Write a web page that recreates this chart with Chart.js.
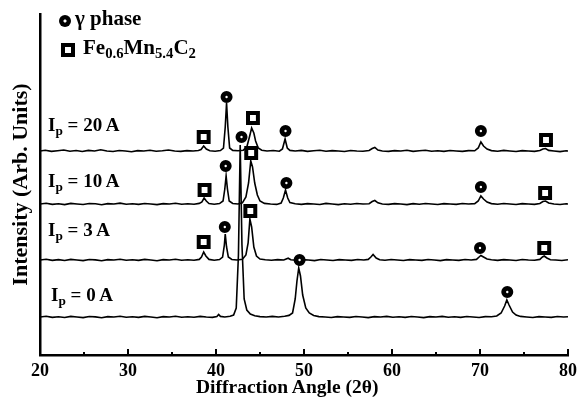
<!DOCTYPE html>
<html>
<head>
<meta charset="utf-8">
<script src="https://cdn.jsdelivr.net/npm/chart.js@4"></script>
<style>
  body { margin: 0; background: #fff; }
  #wrap { position: relative; width: 579px; height: 399px; }
  .lbl { position: absolute; font-family: 'Liberation Serif', serif; font-weight: bold; color: #000; white-space: nowrap; line-height: 1; }
  .lbl sub { font-size: 70%; vertical-align: -0.3em; line-height: 0; }
  .circ { position: absolute; width: 12px; height: 12px; border-radius: 50%; background: radial-gradient(circle, #fff 0 1.3px, #000 1.8px); }
  .sq { position: absolute; width: 6px; height: 6px; border: 4px solid #000; background: #fff; }
</style>
</head>
<body>
<div id="wrap">
  <canvas id="xrdChart" width="579" height="399"></canvas>
  <div class="circ" style="left:59px; top:15px;"></div>
  <div class="lbl" style="left:75px; top:8px; font-size:21px;">γ phase</div>
  <div class="sq" style="left:61px; top:43px;"></div>
  <div class="lbl" style="left:83px; top:37px; font-size:21px;">Fe<sub>0.6</sub>Mn<sub>5.4</sub>C<sub>2</sub></div>
  <div class="lbl" style="left:48px; top:115px; font-size:19px;">I<sub>p</sub> = 20 A</div>
  <div class="lbl" style="left:48px; top:171px; font-size:19px;">I<sub>p</sub> = 10 A</div>
  <div class="lbl" style="left:48px; top:220px; font-size:19px;">I<sub>p</sub> = 3 A</div>
  <div class="lbl" style="left:51px; top:285px; font-size:19px;">I<sub>p</sub> = 0 A</div>
  <div class="lbl" style="left:196px; top:377px; font-size:19.5px;">Diffraction Angle (2θ)</div>
</div>
<script>
// XRD patterns, [2theta, intensity] as shown (stacked)
const trace20 = [[20,204],[20.6,204.8],[21.3,203.6],[22,204.3],[22.7,205],[23.4,203.8],[24.1,204.5],[24.8,203.5],[25.5,204.6],[26.2,204],[26.9,205.2],[27.6,204],[28.3,203.5],[29,204.5],[29.7,204],[30.4,203.3],[31.1,204.4],[31.8,204],[32.5,204.8],[33.2,203.7],[33.9,204.2],[34.6,205],[35.3,204],[36,203.6],[36.7,204.4],[37.4,204],[38,204.5],[38.3,205.5],[38.6,209],[38.9,206],[39.3,204.3],[39.9,203.8],[40.5,204.5],[40.85,207],[41.05,228],[41.2,252],[41.35,228],[41.55,207],[41.9,204.6],[42.5,204.2],[43.1,204.8],[43.5,208],[43.8,218],[44.05,227],[44.3,222],[44.5,214],[44.8,207],[45.2,204.8],[45.8,204],[46.5,204.5],[47.2,203.8],[47.55,206],[47.85,216],[48.1,207],[48.4,204.6],[49,204],[49.7,204.6],[50.4,203.6],[51.1,204.3],[51.8,204.8],[52.5,203.8],[53.2,204.4],[53.9,204],[54.6,203.5],[55.3,204.5],[56,204],[56.7,203.8],[57.4,204.5],[57.75,206.5],[58.05,207.5],[58.4,205],[58.9,204],[59.6,203.6],[60.3,204.4],[61,204],[61.7,204.7],[62.4,203.6],[63.1,204.2],[63.8,204.8],[64.5,203.8],[65.2,204.3],[65.9,203.6],[66.6,204.5],[67.3,204],[68,203.6],[68.7,204.4],[69.4,204.2],[69.8,207],[70.1,213],[70.4,209],[70.8,206],[71.3,204.4],[72,203.8],[72.7,204.6],[73.4,204],[74.1,203.5],[74.8,204.4],[75.5,204],[76.2,203.6],[76.8,204.5],[77.15,206],[77.45,206.5],[77.8,204.6],[78.4,204],[79.1,203.4],[79.8,204.2],[80,204]];
const trace10 = [[20,151],[20.7,151.8],[21.4,150.6],[22.1,151.2],[22.8,150.4],[23.5,151.6],[24.2,151],[24.9,150.5],[25.6,151.5],[26.3,151.2],[27,150.3],[27.7,151.4],[28.4,151],[29.1,151.9],[29.8,150.8],[30.5,151.3],[31.2,150.6],[31.9,151.5],[32.6,151],[33.3,150.4],[34,151.4],[34.7,151],[35.4,151.7],[36.1,150.7],[36.8,151.2],[37.5,150.8],[38.1,151.6],[38.4,153],[38.65,157],[38.9,154],[39.2,151.5],[39.8,150.8],[40.4,151.4],[40.8,154],[41.0,166],[41.15,179],[41.3,166],[41.5,154],[41.9,151.5],[42.5,151],[43.0,152.2],[43.4,158],[43.7,172],[43.95,194],[44.15,188],[44.4,172],[44.7,160],[45.0,154],[45.5,151.6],[46.2,151],[46.9,150.6],[47.4,152],[47.65,157],[47.9,165],[48.15,157],[48.4,152.5],[49,151.2],[49.7,150.6],[50.4,151.4],[51.1,151],[51.8,150.5],[52.5,151.6],[53.2,151],[53.9,150.4],[54.6,151.3],[55.3,150.8],[56,151.5],[56.7,151],[57.4,151.3],[57.75,153.5],[58.05,154.5],[58.4,152.2],[58.9,151],[59.6,150.6],[60.3,151.4],[61,151],[61.7,150.4],[62.4,151.4],[63.1,150.8],[63.8,151.5],[64.5,151],[65.2,150.5],[65.9,151.4],[66.6,151],[67.3,150.6],[68,151.5],[68.7,151],[69.4,151.4],[69.8,154],[70.1,159],[70.4,156],[70.8,153],[71.3,151.4],[72,150.8],[72.7,151.5],[73.4,151],[74.1,150.5],[74.8,151.4],[75.5,151],[76.2,150.6],[76.8,151.5],[77.15,153.5],[77.45,154],[77.8,152],[78.4,151],[79.1,150.5],[79.8,151.3],[80,151]];
const trace3 = [[20,95],[20.7,95.8],[21.4,94.6],[22.1,95.4],[22.8,94.5],[23.5,95.6],[24.2,95],[24.9,94.4],[25.6,95.5],[26.3,95.1],[27,94.3],[27.7,95.4],[28.4,95],[29.1,95.8],[29.8,94.7],[30.5,95.3],[31.2,94.6],[31.9,95.6],[32.6,95],[33.3,94.3],[34,95.4],[34.7,95],[35.4,95.7],[36.1,94.8],[36.8,95.3],[37.5,94.7],[38.1,95.6],[38.35,98],[38.6,103],[38.85,99],[39.2,95.6],[39.8,94.8],[40.4,95.4],[40.75,98],[40.95,110],[41.05,121],[41.2,108],[41.4,98],[41.8,95.5],[42.4,95],[43.0,95.8],[43.4,100],[43.65,112],[43.85,136],[44.05,128],[44.3,108],[44.6,99],[45.0,96],[45.6,95.2],[46.3,94.8],[47,95.4],[47.7,95],[48.2,96.8],[48.5,95.2],[49.1,94.7],[49.8,95.4],[50.5,95],[51.2,94.4],[51.9,95.5],[52.6,95],[53.3,94.5],[54,95.4],[54.7,95],[55.4,94.6],[56.1,95.5],[56.8,95],[57.3,95.6],[57.6,98],[57.85,100.5],[58.2,97],[58.6,95.3],[59.2,94.8],[59.9,95.5],[60.6,95],[61.3,94.5],[62,95.4],[62.7,95],[63.4,94.6],[64.1,95.5],[64.8,95],[65.5,94.4],[66.2,95.4],[66.9,95],[67.6,94.6],[68.3,95.5],[69,95],[69.6,95.6],[69.9,98],[70.1,99.5],[70.4,98],[70.8,96],[71.3,95.2],[72,94.6],[72.7,95.4],[73.4,95],[74.1,94.5],[74.8,95.5],[75.5,95],[76.2,94.7],[76.8,95.6],[77.1,98],[77.3,99],[77.6,97],[78,95.3],[78.6,95],[79.3,94.5],[80,95.2]];
const trace0 = [[20,38],[20.7,38.8],[21.4,37.6],[22.1,38.3],[22.8,37.5],[23.5,38.6],[24.2,38],[24.9,37.4],[25.6,38.5],[26.3,38.1],[27,37.3],[27.7,38.4],[28.4,38],[29.1,38.8],[29.8,37.7],[30.5,38.3],[31.2,37.6],[31.9,38.6],[32.6,38],[33.3,37.3],[34,38.4],[34.7,38],[35.4,38.7],[36.1,37.8],[36.8,38.3],[37.5,37.7],[38.2,38.6],[38.9,38],[39.6,37.6],[40.1,38.5],[40.3,40.5],[40.5,38.6],[41.0,38],[41.6,38.8],[42.0,40],[42.3,47],[42.55,100],[42.75,210],[42.95,110],[43.2,56],[43.5,45],[43.9,41],[44.4,39.2],[45,38.4],[45.7,38],[46.4,38.6],[47.1,38],[47.8,38.8],[48.3,39.6],[48.7,42],[49.0,56],[49.2,74],[49.4,87],[49.6,79],[49.85,60],[50.2,47],[50.6,42],[51.1,39.5],[51.7,38.4],[52.4,38],[53.1,37.5],[53.8,38.4],[54.5,38],[55.2,37.6],[55.9,38.5],[56.6,38],[57.3,37.4],[58,38.4],[58.7,38],[59.4,38.6],[60.1,37.7],[60.8,38.3],[61.5,37.6],[62.2,38.5],[62.9,38],[63.6,37.4],[64.3,38.4],[65,38],[65.7,38.6],[66.4,37.7],[67.1,38.3],[67.8,37.6],[68.5,38.5],[69.2,38],[69.9,37.5],[70.6,38.4],[71.3,38.2],[71.9,39],[72.4,42],[72.8,49],[73.05,55],[73.3,50],[73.7,43],[74.1,40],[74.6,38.6],[75.3,38],[76,37.5],[76.7,38.4],[77.4,38],[78.1,37.6],[78.8,38.5],[79.5,38],[80,38.3]];

// phase markers above the peaks
const gammaMarks = [[41.2,258],[47.9,224],[70.1,224],[41.1,189],[48.0,172],[70.1,168],[41.0,128],[70.0,107],[42.9,218],[49.5,95],[73.1,63]];
const carbideMarks = [[38.6,218],[44.2,237],[77.5,215],[38.7,165],[44.0,202],[77.4,162],[38.6,113],[43.9,144],[77.3,107]];

const xTicks = [20, 30, 40, 50, 60, 70, 80];

const toPts = arr => arr.map(p => ({ x: p[0], y: p[1] }));

// inward tick marks on the x axis
const innerTicks = {
    id: 'innerTicks',
    afterDraw(chart) {
        const ctx = chart.ctx;
        const xs = chart.scales.x;
        const y0 = chart.chartArea.bottom;
        ctx.save();
        ctx.strokeStyle = '#000';
        ctx.lineWidth = 2;
        xTicks.forEach((v, i) => {
            const px = xs.getPixelForValue(v);
            ctx.beginPath();
            ctx.moveTo(px, y0);
            ctx.lineTo(px, y0 - 6);
            ctx.stroke();
            if (i < xTicks.length - 1) {
                const pm = xs.getPixelForValue(v + 5);
                ctx.beginPath();
                ctx.moveTo(pm, y0);
                ctx.lineTo(pm, y0 - 3);
                ctx.stroke();
            }
        });
        ctx.restore();
    }
};

Chart.defaults.font.family = "'Liberation Serif', 'Times New Roman', serif";
Chart.defaults.color = '#000';

const lineStyle = { borderColor: '#000', borderWidth: 1.6, pointRadius: 0, showLine: true, tension: 0, fill: false };

new Chart(document.getElementById('xrdChart').getContext('2d'), {
    type: 'scatter',
    data: {
        datasets: [
            { label: 'gamma', data: toPts(gammaMarks), pointStyle: 'circle', pointRadius: 3.6, borderWidth: 4.8, borderColor: '#000', backgroundColor: '#fff' },
            { label: 'carbide', data: toPts(carbideMarks), pointStyle: 'rect', pointRadius: 7, borderWidth: 4, borderColor: '#000', backgroundColor: '#fff' },
            Object.assign({ label: 'Ip = 20 A', data: toPts(trace20) }, lineStyle),
            Object.assign({ label: 'Ip = 10 A', data: toPts(trace10) }, lineStyle),
            Object.assign({ label: 'Ip = 3 A', data: toPts(trace3) }, lineStyle),
            Object.assign({ label: 'Ip = 0 A', data: toPts(trace0) }, lineStyle)
        ]
    },
    options: {
        responsive: false,
        animation: false,
        layout: { padding: { top: 14, right: 10, left: 0, bottom: 0 } },
        plugins: { legend: { display: false }, tooltip: { enabled: false } },
        scales: {
            x: {
                type: 'linear',
                min: 20, max: 80,
                afterFit: s => { s.height = 44; s.paddingLeft = 0; s.paddingRight = 0; },
                afterBuildTicks: s => { s.ticks = xTicks.map(v => ({ value: v })); },
                ticks: { padding: 6, font: { size: 18, weight: 'bold' }, maxRotation: 0 },
                grid: { display: false, drawTicks: false },
                border: { color: '#000', width: 2.5 }
            },
            y: {
                min: 0, max: 341,
                afterFit: s => { s.width = 40; },
                ticks: { display: false },
                grid: { display: false, drawTicks: false },
                border: { color: '#000', width: 2.5 },
                title: { display: true, text: 'Intensity (Arb. Units)', font: { size: 22, weight: 'bold' }, padding: { top: 8, bottom: 0 } }
            }
        }
    },
    plugins: [innerTicks]
});
</script>
</body>
</html>
